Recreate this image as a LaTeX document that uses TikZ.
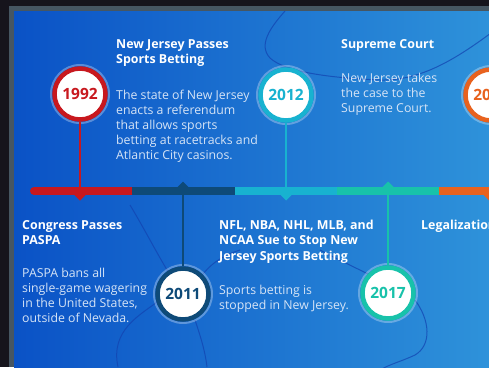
\documentclass[tikz,border=0pt]{standalone}
\usepackage{fontspec}
\setmainfont{Open Sans}
\definecolor{cRed}{RGB}{200,24,30}
\definecolor{cNavy}{RGB}{14,74,120}
\definecolor{cCyan}{RGB}{24,178,208}
\definecolor{cGreen}{RGB}{24,194,170}
\definecolor{cOrange}{RGB}{232,98,30}
\definecolor{bgL}{RGB}{10,82,198}
\definecolor{bgR}{RGB}{46,146,218}
\definecolor{frameC}{RGB}{70,86,98}
\definecolor{darkC}{RGB}{22,20,28}
\definecolor{waveC}{RGB}{18,66,176}
\definecolor{bodyC}{RGB}{214,228,246}
\tikzset{
  titletext/.style={anchor=base west, inner sep=0pt, align=left, text=white,
    font=\fontsize{12.4}{15.5}\selectfont\bfseries},
  bodytext/.style={anchor=base west, inner sep=0pt, align=left, text=bodyC,
    font=\fontsize{12.3}{15}\selectfont},
  yearnode/.style={circle, fill=white, draw=#1, line width=4.5pt, minimum size=51pt,
    inner sep=0pt, text=#1, font=\fontsize{15.5}{18}\selectfont\bfseries},
  halo/.style={draw=white, draw opacity=0.3, line width=2pt},
  stem/.style={line width=1.1pt},
  wave/.style={draw=waveC, line width=1pt, draw opacity=0.7},
}
\begin{document}
\begin{tikzpicture}[x=1pt,y=-1pt]
\useasboundingbox (0,0) rectangle (489,367);
\clip (0,0) rectangle (489,367);
% outer photo background and frame
\fill[darkC] (0,0) rectangle (489,367);
\fill[frameC] (9,6) rectangle (489,367);
\shade[left color=bgL, right color=bgR] (14,11) rectangle (489,367);
% decorative waves
\draw[wave] (285,11) .. controls (270,28) and (258,45) .. (270,58)
  .. controls (285,72) and (330,78) .. (380,80)
  .. controls (420,81) and (455,60) .. (495,30);
\draw[wave] (130,205) .. controls (145,230) and (155,250) .. (170,275);
\draw[wave] (195,285) .. controls (205,270) and (215,258) .. (240,250);
\draw[wave] (160,300) .. controls (140,315) and (110,330) .. (118,367);
\draw[wave] (195,320) .. controls (200,335) and (205,350) .. (207,367);
\draw[wave] (320,250) .. controls (335,258) and (350,265) .. (370,275);
\draw[wave] (415,300) .. controls (430,320) and (432,345) .. (415,355)
  .. controls (400,362) and (390,364) .. (380,370);
% timeline bar
\draw[cRed, line width=8pt, line cap=round] (34,191) -- (100,191);
\fill[cRed] (100,187) rectangle (132.5,195);
\fill[cNavy] (132,187) rectangle (235.5,195);
\fill[cCyan] (235,187) rectangle (337.5,195);
\fill[cGreen] (337,187) rectangle (439.5,195);
\fill[cOrange] (439,187) rectangle (489,195);
% pointers
\fill[cRed] (74,194.5) -- (86,194.5) -- (80,200.5) -- cycle;
\fill[cNavy] (177,187.5) -- (189,187.5) -- (183,181.5) -- cycle;
\fill[cCyan] (280,194.5) -- (292,194.5) -- (286,200.5) -- cycle;
\fill[cGreen] (382,187.5) -- (394,187.5) -- (388,181.5) -- cycle;
\fill[cOrange] (483,194.5) -- (495,194.5) -- (489,200.5) -- cycle;
% anchor points on the bar
\coordinate (b1992) at (80,187);
\coordinate (b2012) at (286,187);
\coordinate (b2011) at (183,195);
\coordinate (b2017) at (388,195);
% halos
\draw[halo] (80,94) circle (29pt);
\draw[halo] (286,95) circle (29pt);
\draw[halo] (491,95) circle (29pt);
\draw[halo] (183,294) circle (29pt);
\draw[halo] (388,293) circle (29pt);
% year circles
\node[yearnode=cRed] (y1992) at (80,94) {1992};
\node[yearnode=cCyan] (y2012) at (286,95) {2012};
\node[yearnode=cOrange] (y2018) at (491,95) {2018};
\node[yearnode=cNavy] (y2011) at (183,294) {2011};
\node[yearnode=cGreen] (y2017) at (388,293) {2017};
% stems
\draw[stem, cRed] (y1992.south) -- (b1992);
\draw[stem, cCyan] (y2012.south) -- (b2012);
\draw[stem, cNavy] (b2011) -- (y2011.north);
\draw[stem, cGreen] (b2017) -- (y2017.north);
% texts (anchor = baseline of the last line)
\node[titletext] (t1) at (116,63.5) {New Jersey Passes\\Sports Betting};
\node[bodytext] (d1) at (116,159) {The state of New Jersey\\enacts a referendum\\that allows sports\\betting at racetracks and\\Atlantic City casinos.};
\node[titletext] (t2) at (341,48) {Supreme Court};
\node[bodytext] (d2) at (341,112) {New Jersey takes\\the case to the\\Supreme Court.};
\node[titletext] (t3) at (22,244.5) {Congress Passes\\PASPA};
\node[bodytext] (d3) at (22,322) {PASPA bans all\\single-game wagering\\in the United States,\\outside of Nevada.};
\node[titletext] (t4) at (219,260) {NFL, NBA, NHL, MLB, and\\NCAA Sue to Stop New\\Jersey Sports Betting};
\node[bodytext] (d4) at (219,309) {Sports betting is\\stopped in New Jersey.};
\node[titletext] (t5) at (421,229) {Legalization};
\end{tikzpicture}
\end{document}
